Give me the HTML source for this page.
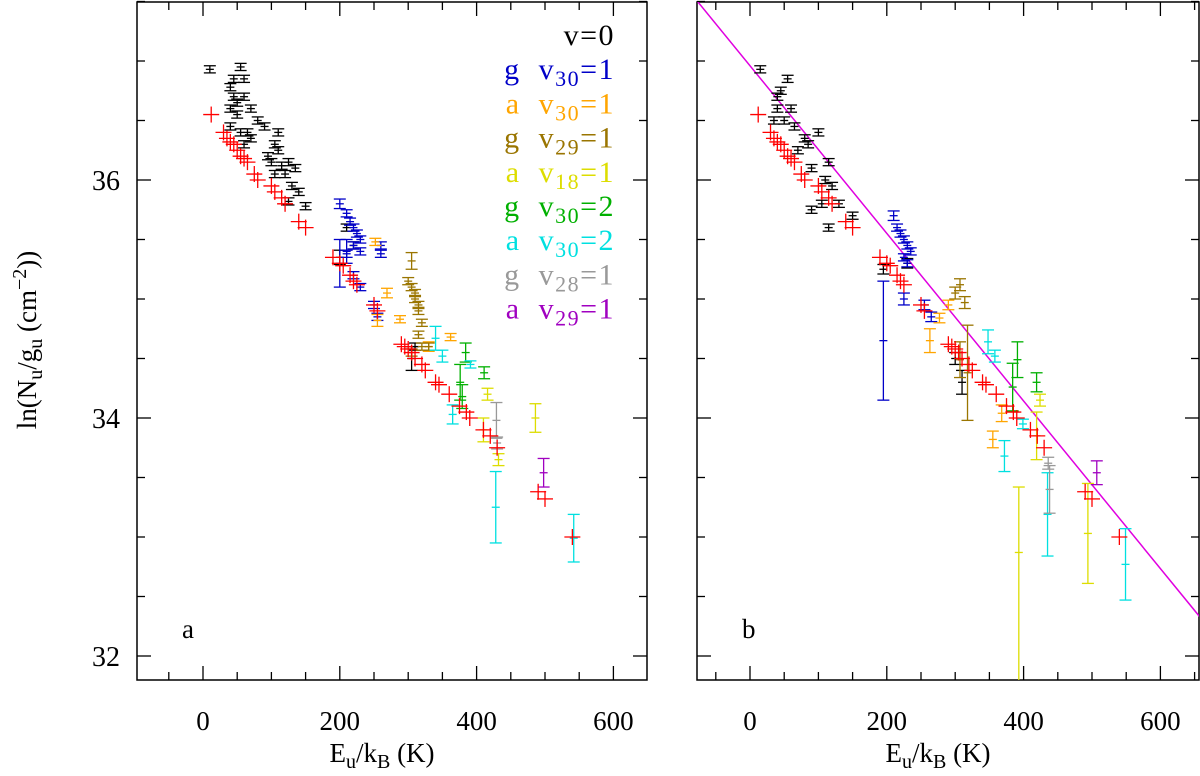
<!DOCTYPE html>
<html><head><meta charset="utf-8"><style>
html,body{margin:0;padding:0;background:#fff}
svg{display:block;font-family:"Liberation Serif",serif}
</style></head><body>
<svg id="c" width="1200" height="776" viewBox="0 0 1200 776"></svg>
<script>
// data: [Eu/kB, ln(Nu/gu), err] (optional 4th = downward err)
const redA=[[12,36.55,.02],[30,36.4,.02],[35,36.35,.02],[40,36.32,.02],[45,36.3,.02],[50,36.25,.02],[55,36.2,.02],[60,36.18,.02],[65,36.15,.02],[75,36.05,.02],[80,36.0,.02],[100,35.95,.02],[105,35.9,.02],[115,35.85,.02],[120,35.8,.02],[140,35.65,.02],[150,35.6,.02],[190,35.35,.02],[200,35.3,.02],[205,35.28,.02],[215,35.2,.02],[220,35.15,.02],[225,35.12,.02],[250,34.95,.02],[255,34.9,.02],[290,34.62,.02],[295,34.6,.02],[300,34.58,.02],[305,34.55,.02],[310,34.5,.02],[320,34.45,.02],[325,34.4,.02],[340,34.3,.02],[345,34.28,.02],[360,34.2,.02],[375,34.1,.02],[385,34.05,.02],[390,34.0,.02],[410,33.9,.02],[420,33.85,.02],[430,33.75,.02],[490,33.38,.02],[500,33.32,.02],[540,33.0,.02]];
const blackA=[[10,36.93,.03],[40,36.78,.03],[45,36.85,.03],[55,36.95,.03],[60,36.85,.03],[45,36.7,.03],[50,36.65,.03],[60,36.7,.03],[40,36.6,.03],[50,36.55,.03],[70,36.6,.03],[80,36.5,.03],[90,36.45,.03],[40,36.45,.03],[55,36.4,.03],[65,36.4,.03],[110,36.4,.03],[105,36.3,.03],[110,36.25,.03],[60,36.3,.03],[70,36.35,.03],[95,36.2,.03],[100,36.15,.03],[115,36.12,.03],[125,36.15,.03],[120,36.05,.03],[135,36.1,.03],[105,36.05,.03],[130,35.95,.03],[140,35.9,.03],[125,35.82,.03],[150,35.78,.03],[210,35.6,.03],[200,35.35,.06],[220,35.45,.03],[310,34.6,.03],[305,34.5,.1]];
const blackB=[[15,36.93,.03],[40,36.7,.03],[45,36.75,.03],[55,36.85,.03],[40,36.6,.03],[50,36.5,.03],[35,36.5,.03],[60,36.6,.03],[65,36.45,.03],[80,36.35,.03],[70,36.25,.03],[85,36.3,.03],[100,36.4,.03],[115,36.15,.03],[90,36.1,.03],[110,36.0,.03],[120,35.95,.03],[105,35.8,.03],[115,35.6,.03],[130,35.8,.03],[150,35.7,.03],[90,35.75,.03],[195,35.25,.04],[230,35.3,.04],[300,34.5,.05],[310,34.3,.1]];
const blueA=[[200,35.8,.04],[210,35.72,.03],[215,35.65,.03],[220,35.6,.03],[225,35.55,.03],[230,35.5,.03],[220,35.45,.03],[230,35.4,.03],[210,35.38,.03],[260,35.45,.03],[260,35.38,.03],[200,35.3,.2],[210,35.4,.1],[220,35.2,.03],[230,35.1,.03],[250,34.95,.03],[255,34.85,.03]];
const blueB=[[210,35.7,.04],[215,35.6,.03],[220,35.55,.03],[225,35.5,.03],[230,35.45,.03],[235,35.4,.03],[225,35.35,.03],[230,35.3,.03],[225,35.0,.05],[195,34.65,.5],[255,34.95,.04],[265,34.85,.04]];
const orangeA=[[252,35.48,.03],[269,35.05,.04],[255,34.82,.05],[288,34.83,.03],[362,34.68,.03],[330,34.6,.04]];
const orangeB=[[263,34.65,.1],[277,34.84,.04],[290,34.95,.04],[355,33.82,.07],[368,34.04,.07]];
const oliveA=[[305,35.32,.07],[300,35.15,.03],[305,35.1,.03],[310,35.05,.03],[310,35.0,.03],[315,34.95,.03],[315,34.9,.03],[320,34.8,.03],[315,34.7,.03],[320,34.6,.03],[330,34.6,.03],[305,34.55,.03]];
const oliveB=[[307,35.12,.05],[314,34.97,.05],[318,34.38,.4],[307,34.49,.15],[300,35.05,.05]];
const yellowA=[[486,34.0,.12],[416,34.2,.05],[410,33.9,.1],[432,33.65,.05]];
const yellowB=[[393,32.87,.55,1.2],[494,33.03,.42],[424,34.15,.05],[419,33.85,.2]];
const greenA=[[384,34.55,.08],[411,34.38,.05],[376,34.3,.15],[379,34.18,.1]];
const greenB=[[391,34.49,.15],[419,34.3,.08],[384,34.26,.2]];
const cyanA=[[340,34.67,.1],[350,34.52,.05],[365,34.03,.08],[391,34.45,.03],[428,33.25,.3],[542,32.99,.2]];
const cyanB=[[348,34.64,.1],[358,34.52,.05],[372,33.68,.13],[399,33.95,.04],[435,33.19,.35],[549,32.77,.3]];
const grayA=[[429,33.98,.15],[430,33.79,.05]];
const grayB=[[438,33.4,.2],[436,33.62,.05]];
const purpleA=[[498,33.54,.12]];
const purpleB=[[507,33.54,.1]];
const fitT=142, fitB=36.96;
const xTicks=[0,200,400,600];
const yTicks=[32,34,36];

const NS="http://www.w3.org/2000/svg";
const svg=document.getElementById('c');
function el(t,a,p){const e=document.createElementNS(NS,t);for(const k in a)e.setAttribute(k,a[k]);(p||svg).appendChild(e);return e;}
const panels=[
 {name:'a',L:137,R:647,x0:203,xmin:-100,xmax:650},
 {name:'b',L:697,R:1199,x0:750,xmin:-77,xmax:657}
];
const SX=0.684, T=2, B=680;
function Y(v){return 180-119*(v-36);}
function drawSeries(p,g,data,color,isRed,nm){
 const X=v=>p.x0+SX*v;
 data.forEach(d=>{
  const x=X(d[0]),y=Y(d[1]),eu=d[2]*119,ed=(d[3]!==undefined?d[3]:d[2])*119;
  const gg=el('g',{},g);
  
  
  if(isRed){
   el('line',{x1:x-8,x2:x+8,y1:y,y2:y,stroke:color,'stroke-width':1.3},gg);
   el('line',{x1:x,x2:x,y1:y-8,y2:y+8,stroke:color,'stroke-width':1.3},gg);
   return;
  }
  const y1=Math.max(T,y-eu),y2=Math.min(B,y+ed);
  el('line',{x1:x,x2:x,y1:y1,y2:y2,stroke:color,'stroke-width':1.3},gg);
  const cw=6;
  if(y-eu>T)el('line',{x1:x-cw,x2:x+cw,y1:y-eu,y2:y-eu,stroke:color,'stroke-width':1.3},gg);
  if(y+ed<B)el('line',{x1:x-cw,x2:x+cw,y1:y+ed,y2:y+ed,stroke:color,'stroke-width':1.3},gg);
  el('line',{x1:x-4,x2:x+4,y1:y,y2:y,stroke:color,'stroke-width':1.3},gg);
 });
}
panels.forEach((p,i)=>{
 const g=el('g',{});
 
 
 const X=v=>p.x0+SX*v;
 const f=el('rect',{x:p.L,y:T,width:p.R-p.L,height:B-T,fill:'none',stroke:'#000','stroke-width':1.5},g);
 
 
 for(let v=-50;v<=p.xmax;v+=50){
  const x=X(v); if(x<p.L+2||x>p.R-2)continue;
  const len=(v%200===0)?14:8;
  el('line',{x1:x,x2:x,y1:B,y2:B-len,stroke:'#000','stroke-width':1.3},g);
  el('line',{x1:x,x2:x,y1:T,y2:T+len,stroke:'#000','stroke-width':1.3},g);
 }
 for(let v=32;v<=37.5;v+=0.5){
  const y=Y(v);
  const len=(v%2===0)?14:8;
  el('line',{x1:p.L,x2:p.L+len,y1:y,y2:y,stroke:'#000','stroke-width':1.3},g);
  el('line',{x1:p.R,x2:p.R-len,y1:y,y2:y,stroke:'#000','stroke-width':1.3},g);
 }
 xTicks.forEach(v=>{const t=el('text',{x:X(v),y:730,'font-size':27,'text-anchor':'middle'},g);t.textContent=v;
  });
 const xt=el('text',{x:(p.L+p.R)/2-10,y:762,'font-size':27,'text-anchor':'middle'},g);
 
 xt.innerHTML='E<tspan font-size="20" dy="6">u</tspan><tspan dy="-6">/k</tspan><tspan font-size="20" dy="6">B</tspan><tspan dy="-6"> (K)</tspan>';
 const pl=el('text',{x:p.L+45,y:638,'font-size':27},g);pl.textContent=p.name;
 
 const cp=el('clipPath',{id:'cp'+i},g);el('rect',{x:p.L,y:T,width:p.R-p.L,height:B-T},cp);
 const dg=el('g',{'clip-path':'url(#cp'+i+')'},g);
 if(i===1){
  const fx=v=>fitB-v/fitT;
  const ln=el('line',{x1:X(p.xmin),y1:Y(fx(p.xmin)),x2:X(p.xmax),y2:Y(fx(p.xmax)),stroke:'#e000e0','stroke-width':1.5},dg);
  
 }
 const S=i===0?
  [[blackA,'#000',0,'v0-g'],[blueA,'#0000c8',0,'g-v30-1'],[orangeA,'#ffa500',0,'a-v30-1'],[oliveA,'#9a7500',0,'g-v29-1'],[yellowA,'#dddd00',0,'a-v18-1'],[greenA,'#00b000',0,'g-v30-2'],[cyanA,'#00e0e0',0,'a-v30-2'],[grayA,'#999',0,'g-v28-1'],[purpleA,'#a000c0',0,'a-v29-1'],[redA,'#ff0000',1,'v0-red']]:
  [[blackB,'#000',0,'v0-g'],[blueB,'#0000c8',0,'g-v30-1'],[orangeB,'#ffa500',0,'a-v30-1'],[oliveB,'#9a7500',0,'g-v29-1'],[yellowB,'#dddd00',0,'a-v18-1'],[greenB,'#00b000',0,'g-v30-2'],[cyanB,'#00e0e0',0,'a-v30-2'],[grayB,'#999',0,'g-v28-1'],[purpleB,'#a000c0',0,'a-v29-1'],[redA,'#ff0000',1,'v0-red']];
 S.forEach(s=>drawSeries(p,dg,s[0],s[1],s[2],s[3]));
});
yTicks.forEach(v=>{const t=el('text',{x:120,y:Y(v)+10,'font-size':28,'text-anchor':'end'});t.textContent=v;
 });
const yt=el('text',{x:0,y:0,'font-size':27,'text-anchor':'middle',transform:'translate(36,340) rotate(-90)'});

yt.innerHTML='ln(N<tspan font-size="20" dy="6">u</tspan><tspan dy="-6">/g</tspan><tspan font-size="20" dy="6">u</tspan><tspan dy="-6">  (cm</tspan><tspan font-size="20" dy="-10">−2</tspan><tspan dy="10">))</tspan>';
const leg=[['','v=0','','#000'],['g','30','1','#0000c8'],['a','30','1','#ffa500'],['g','29','1','#9a7500'],['a','18','1','#dddd00'],['g','30','2','#00b000'],['a','30','2','#00e0e0'],['g','28','1','#999'],['a','29','1','#a000c0']];
leg.forEach((l,k)=>{
 const y=45+k*34.2;
 const t=el('text',{x:615,y:y,'font-size':30,'text-anchor':'end',fill:l[3],'letter-spacing':'1.5'});
 
 if(k===0)t.textContent='v=0';
 else t.innerHTML=l[0]+'\u00a0\u00a0v<tspan font-size="22" dy="7">'+l[1]+'</tspan><tspan dy="-7">=' + l[2]+'</tspan>';
});
</script>
</body></html>
